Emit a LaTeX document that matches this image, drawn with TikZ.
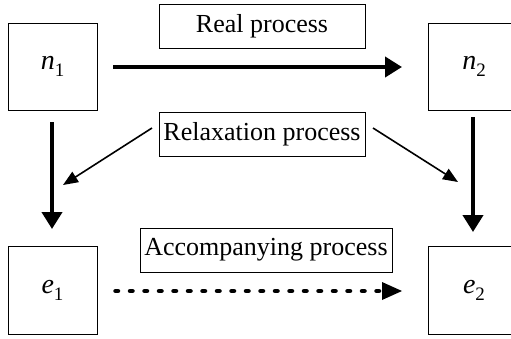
\documentclass[tikz,border=0pt]{standalone}
\usepackage{fontspec}
\setmainfont{Liberation Serif}
\usetikzlibrary{arrows.meta}
\begin{document}
\begin{tikzpicture}[x=1pt,y=-1pt,
  statebox/.style={draw,line width=1pt,inner sep=0pt,font=\fontsize{28}{28}\selectfont},
  procbox/.style={draw,line width=1pt,inner sep=0pt,font=\fontsize{26}{26}\selectfont},
  bigarrow/.style={line width=4pt,-{Triangle[width=20pt,length=17pt]}},
  thinarrow/.style={line width=1.6pt,-{Triangle[width=12pt,length=15pt]}}]
\useasboundingbox (0,0) rectangle (511,338);
\clip (0,0) rectangle (511,338);
\newcommand{\lbl}[2]{\textit{#1}\raisebox{-7pt}{\fontsize{19}{19}\selectfont #2}}
\node[statebox,minimum width=89pt,minimum height=87pt] (n1) at (52.5,66.5) {\lbl{n}{1}};
\node[statebox,minimum width=92pt,minimum height=87pt] (n2) at (474,66.5) {\lbl{n}{2}};
\node[statebox,minimum width=89pt,minimum height=88pt] (e1) at (52.5,290) {\lbl{e}{1}};
\node[statebox,minimum width=92pt,minimum height=88pt] (e2) at (474,290) {\lbl{e}{2}};
\node[procbox,minimum width=206pt,minimum height=44pt] (real) at (262,26) {Real process};
\node[procbox,minimum width=206pt,minimum height=44pt] (relax) at (262,134) {Relaxation process};
\node[procbox,minimum width=252pt,minimum height=44pt] (acc) at (266,250) {Accompanying process};
\coordinate (r1) at (113,67); \coordinate (r2) at (402,67);
\coordinate (d1a) at (52,122); \coordinate (d1b) at (52,229);
\coordinate (d2a) at (473,117); \coordinate (d2b) at (473,232);
\coordinate (la) at (152,128); \coordinate (lb) at (63,185);
\coordinate (ra) at (373,128); \coordinate (rb) at (458,182);
\coordinate (a1) at (115.5,291); \coordinate (a2) at (402,291);
\draw[bigarrow] (r1) -- (r2);
\draw[bigarrow] (d1a) -- (d1b);
\draw[bigarrow] (d2a) -- (d2b);
\draw[thinarrow] (la) -- (lb);
\draw[thinarrow] (ra) -- (rb);
\draw[line width=4.5pt,line cap=round,dash pattern=on 2.5pt off 12pt] (a1) -- (386,291);
\fill (382,282) -- (a2) -- (382,300) -- cycle;
\end{tikzpicture}
\end{document}
